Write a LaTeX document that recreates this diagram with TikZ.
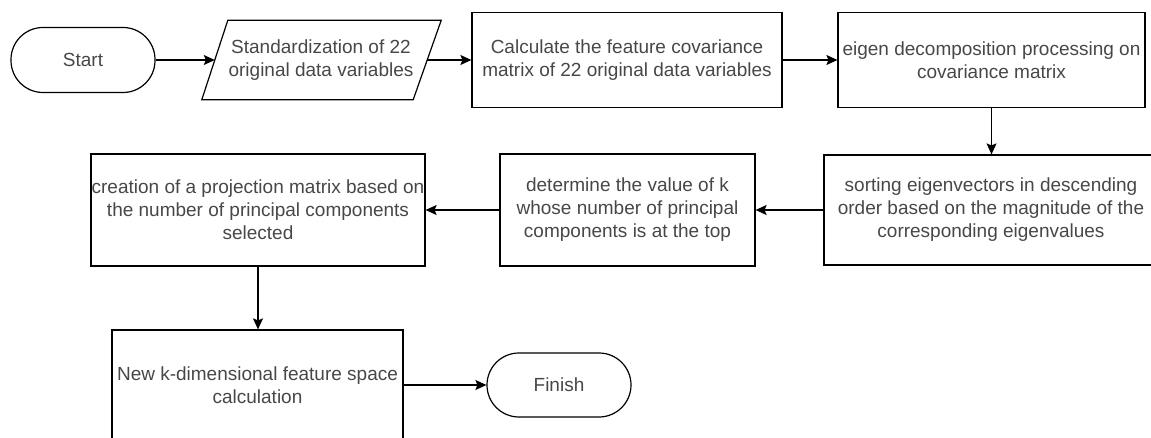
\documentclass[tikz,border=0pt]{standalone}
\usepackage{fontspec}
\newfontfamily\flowfont{Liberation Sans}
\usepackage{tikz}
\usetikzlibrary{arrows.meta}
\usepackage{xcolor}

\begin{document}
\begin{tikzpicture}[x=1pt,y=-1pt,>={Stealth[length=11pt,width=10pt,inset=2pt]},
        every node/.style={font=\flowfont\fontsize{19}{23}\selectfont,text=black!72,align=center,inner sep=0pt},
        term/.style={draw,line width=1.2pt,rounded corners=32pt,minimum width=144pt,minimum height=65pt},
        io/.style={rectangle,minimum width=212pt,minimum height=79pt},
        proc/.style={draw,line width=1.2pt,rectangle},
        flow/.style={->,line width=1.2pt}]
        \useasboundingbox (0,0) rectangle (1151,438);
        % first row
        \node[term] (start) at (83,60) {Start};
        \node[io] (std) at (321,60) {Standardization of 22\\original data variables};
        \draw[line width=1.2pt] ([xshift=13pt]std.north west) -- ([xshift=14pt]std.north east)
                -- ([xshift=-14pt]std.south east) -- ([xshift=-13pt]std.south west) -- cycle;
        \node[proc,minimum width=310pt,minimum height=95pt] (cov) at (627,60)
                {Calculate the feature covariance\\matrix of 22 original data variables};
        \node[proc,minimum width=307pt,minimum height=95pt] (eig) at (991.5,60)
                {eigen decomposition processing on\\covariance matrix};
        % second row
        \node[proc,minimum width=334pt,minimum height=110pt] (sort) at (991,210)
                {sorting eigenvectors in descending\\order based on the magnitude of the\\corresponding eigenvalues};
        \node[proc,minimum width=255pt,minimum height=112pt] (kval) at (627.5,210)
                {determine the value of k\\whose number of principal\\components is at the top};
        \node[proc,minimum width=334pt,minimum height=112pt] (proj) at (258,210)
                {creation of a projection matrix based on\\the number of principal components\\selected};
        % last row
        \node[proc,minimum width=291pt,minimum height=110pt] (newk) at (257.5,385)
                {New k-dimensional feature space\\calculation};
        \node[term,minimum height=64pt] (finish) at (559,385) {Finish};
        % arrows
        \draw[flow] (start) -- (std.west);
        \draw[flow] (std.east) -- (cov);
        \draw[flow] (cov) -- (eig);
        \draw[flow] (eig.south) -- (eig.south |- sort.north);
        \draw[flow] (sort) -- (kval);
        \draw[flow] (kval) -- (proj);
        \draw[flow] (proj) -- (proj |- newk.north);
        \draw[flow] (newk) -- (finish);
\end{tikzpicture}
\end{document}
